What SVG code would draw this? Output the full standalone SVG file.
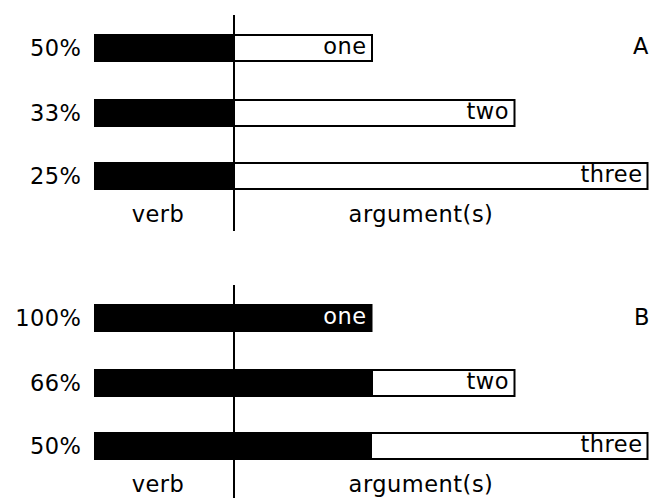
<svg xmlns="http://www.w3.org/2000/svg" width="652" height="498" viewBox="0 0 652 498">
<style>
text{font-family:"DejaVu Sans","Verdana",sans-serif;font-size:22.5px;letter-spacing:0.5px;fill:#000}
.blk{fill:#000}
.box{fill:#fff;stroke:#000;stroke-width:2}
.axis{stroke:#000;stroke-width:2;fill:none}
.end{text-anchor:end}
.mid{text-anchor:middle}
.inv{fill:#fff}
</style>
<g id="connectors">
<line class="axis" x1="234" y1="15" x2="234" y2="231"/>
<line class="axis" x1="234" y1="285" x2="234" y2="498"/>
</g>
<g id="panelA">
<g id="a1">
<rect class="box" x="234" y="35" width="138" height="26"/>
<rect class="blk" x="94" y="34" width="140" height="28"/>
<text class="end" x="81.5" y="55.5">50%</text>
<text class="end" x="366.5" y="53.5">one</text>
</g>
<g id="a2">
<rect class="box" x="234" y="100" width="280.5" height="26"/>
<rect class="blk" x="94" y="99" width="140" height="28"/>
<text class="end" x="81.5" y="120.5">33%</text>
<text class="end" x="509" y="119">two</text>
</g>
<g id="a3">
<rect class="box" x="234" y="163" width="413.5" height="26"/>
<rect class="blk" x="94" y="162" width="140" height="28"/>
<text class="end" x="81.5" y="183.5">25%</text>
<text class="end" x="642.5" y="181.7">three</text>
</g>
<text id="labelA" class="mid" x="641" y="53.5">A</text>
<text id="verbA" class="mid" x="158" y="222">verb</text>
<text id="argA" class="mid" x="421" y="222">argument(s)</text>
</g>
<g id="panelB">
<g id="b1">
<rect class="blk" x="94" y="304" width="278.5" height="28"/>
<text class="end inv" x="366.5" y="323.5">one</text>
<text class="end" x="81.5" y="325.5">100%</text>
</g>
<g id="b2">
<rect class="box" x="372" y="370" width="142.5" height="26"/>
<rect class="blk" x="94" y="369" width="278" height="28"/>
<text class="end" x="81.5" y="390.5">66%</text>
<text class="end" x="509" y="389">two</text>
</g>
<g id="b3">
<rect class="box" x="371" y="433" width="276.5" height="26"/>
<rect class="blk" x="94" y="432" width="277" height="28"/>
<text class="end" x="81.5" y="453.5">50%</text>
<text class="end" x="642.5" y="451.7">three</text>
</g>
<text id="labelB" class="mid" x="642" y="325">B</text>
<text id="verbB" class="mid" x="158" y="492">verb</text>
<text id="argB" class="mid" x="421" y="492">argument(s)</text>
</g>
</svg>
